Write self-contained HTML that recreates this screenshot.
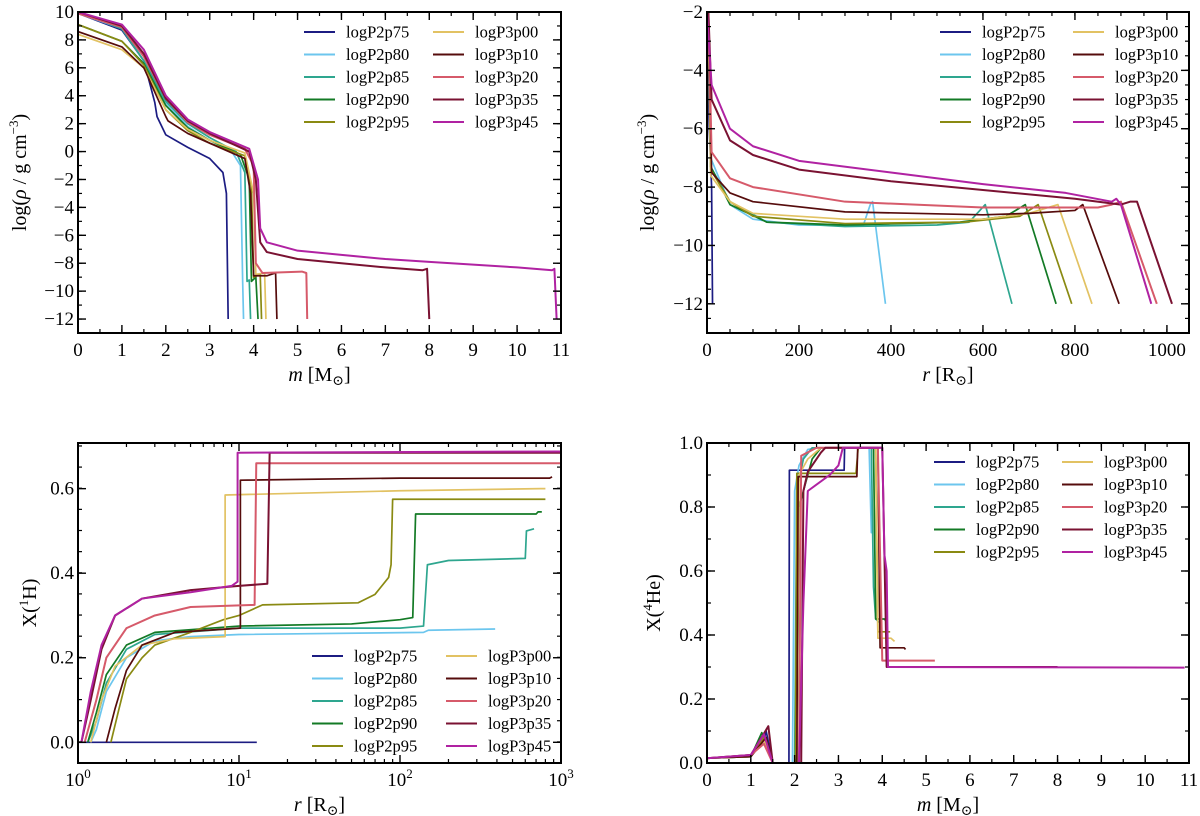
<!DOCTYPE html>
<html><head><meta charset="utf-8"><style>
html,body{margin:0;padding:0;background:#fff;}
svg{display:block;font-family:"Liberation Serif","DejaVu Serif",serif;}
</style></head><body>
<svg id="fig" width="1200" height="816" viewBox="0 0 1200 816" xmlns="http://www.w3.org/2000/svg"></svg>
<script>
const seriesNames = ["logP2p75","logP2p80","logP2p85","logP2p90","logP2p95","logP3p00","logP3p10","logP3p20","logP3p35","logP3p45"];
const seriesColors = ["#1c1c82","#6cc6ee","#2ea68f","#137a25","#8a8a12","#e2c263","#560c0c","#d65a6a","#7a1232","#b022a2"];

// Panel 1: m vs log rho
const rhoM_p2p75 = [[0,9.9],[1,8.7],[1.5,6.5],[1.75,3.5],[1.8,2.5],[2,1.2],[2.5,0.3],[3,-0.5],[3.3,-1.5],[3.38,-3],[3.42,-12]];
const rhoM_p2p80 = [[0,9.9],[1,8.8],[1.5,6.5],[2,3.5],[2.5,1.8],[3,0.8],[3.5,0],[3.7,-1],[3.75,-9.3],[3.77,-12]];
const rhoM_p2p85 = [[0,10],[1,8.8],[1.5,6.5],[2,3.6],[2.5,2],[3,1],[3.6,0],[3.8,-1.5],[3.85,-9.3],[3.9,-9.2],[3.93,-12]];
const rhoM_p2p90 = [[0,9.1],[1,7.9],[1.5,6.3],[2,3.3],[2.5,1.7],[3,0.8],[3.7,-0.2],[3.9,-2],[3.95,-9.3],[4.05,-9],[4.1,-12]];
const rhoM_p2p95 = [[0,9.1],[1,7.9],[1.5,6.2],[2,3],[2.5,1.5],[3,0.6],[3.8,-0.3],[3.95,-2.5],[4,-9],[4.15,-8.8],[4.18,-12]];
const rhoM_p3p00 = [[0,8.4],[1,7.3],[1.5,6],[2,3],[2.5,1.6],[3,0.8],[3.8,-0.1],[4,-3],[4.05,-8.8],[4.25,-8.7],[4.28,-12]];
const rhoM_p3p10 = [[0,8.6],[1,7.5],[1.5,6],[2,2.5],[2.05,2.2],[2.5,1.3],[3,0.6],[3.8,-0.5],[3.93,-3],[4,-8.9],[4.3,-8.9],[4.5,-8.7],[4.53,-12]];
const rhoM_p3p20 = [[0,9.9],[1,8.9],[1.5,6.8],[2,3.8],[2.5,2.1],[3,1.2],[3.8,0.2],[4,-1],[4.05,-8],[4.2,-8.7],[5.1,-8.6],[5.2,-8.7],[5.22,-12]];
const rhoM_p3p35 = [[0,10],[1,9],[1.5,7],[2,3.8],[2.5,2.2],[3,1.3],[3.9,0],[4.05,-2],[4.15,-6.5],[4.3,-7.2],[5,-7.7],[6,-8],[7,-8.3],[7.85,-8.5],[7.95,-8.4],[8,-12]];
const rhoM_p3p45 = [[0,10],[1,9.1],[1.5,7.3],[2,4],[2.5,2.3],[3,1.4],[3.9,0.2],[4.1,-2],[4.15,-5.5],[4.3,-6.5],[5,-7.1],[6,-7.4],[7,-7.7],[8,-7.9],[9,-8.1],[10,-8.3],[10.8,-8.5],[10.85,-8.4],[10.9,-12]];

// Panel 2: r vs log rho
const rhoR_p2p75 = [[0,-2],[5,-6],[10,-8],[12,-12]];
const rhoR_p2p80 = [[3,-2],[8,-7],[50,-8.6],[100,-9.1],[200,-9.3],[340,-9.3],[355,-8.6],[360,-8.5],[388,-12]];
const rhoR_p2p85 = [[3,-2],[8,-7.3],[50,-8.5],[130,-9.2],[300,-9.35],[500,-9.3],[570,-9.2],[605,-8.6],[663,-12]];
const rhoR_p2p90 = [[3,-2],[8,-7.3],[50,-8.6],[130,-9.2],[300,-9.3],[550,-9.2],[650,-9],[692,-8.6],[759,-12]];
const rhoR_p2p95 = [[3,-2],[8,-7.4],[50,-8.5],[100,-9],[300,-9.25],[560,-9.2],[680,-9],[720,-8.6],[793,-12]];
const rhoR_p3p00 = [[3,-2],[8,-7.6],[50,-8.5],[100,-8.9],[300,-9.1],[600,-9.1],[700,-8.9],[763,-8.6],[837,-12]];
const rhoR_p3p10 = [[3,-2],[10,-7.5],[50,-8.2],[100,-8.5],[300,-8.85],[600,-8.95],[700,-8.9],[800,-8.8],[817,-8.6],[896,-12]];
const rhoR_p3p20 = [[3,-2],[10,-6.8],[50,-7.7],[100,-8],[300,-8.5],[600,-8.7],[850,-8.7],[880,-8.6],[900,-8.5],[978,-12]];
const rhoR_p3p35 = [[3,-2],[10,-5],[50,-6.4],[100,-6.9],[200,-7.4],[400,-7.8],[600,-8.1],[800,-8.4],[900,-8.6],[920,-8.5],[935,-8.5],[1011,-12]];
const rhoR_p3p45 = [[0,-2],[10,-4.5],[50,-6],[100,-6.6],[200,-7.1],[400,-7.5],[600,-7.9],[780,-8.2],[880,-8.5],[890,-8.4],[900,-8.6],[966,-12]];

// Panel 3: r (log) vs X(1H)
const h1_p2p75 = [[1,0],[12.9,0]];
const h1_p2p80 = [[1.2,0],[1.3,0.03],[1.5,0.12],[2,0.2],[3,0.24],[5,0.25],[10,0.255],[140,0.26],[150,0.265],[390,0.268]];
const h1_p2p85 = [[1.15,0],[1.3,0.05],[1.5,0.14],[2,0.22],[3,0.255],[10,0.27],[100,0.27],[140,0.275],[148,0.42],[200,0.43],[600,0.435],[610,0.5],[680,0.505]];
const h1_p2p90 = [[1.15,0],[1.3,0.07],[1.5,0.16],[2,0.23],[3,0.26],[10,0.275],[50,0.28],[100,0.29],[120,0.295],[125,0.54],[700,0.54],[720,0.545],[760,0.545]];
const h1_p2p95 = [[1.6,0],[1.8,0.08],[2,0.15],[2.5,0.2],[3,0.23],[5,0.26],[8,0.29],[10,0.3],[14,0.325],[55,0.33],[70,0.35],[85,0.39],[88,0.42],[90,0.575],[800,0.575]];
const h1_p3p00 = [[1.2,0],[1.4,0.1],[1.7,0.18],[2.5,0.23],[4,0.245],[8.2,0.25],[8.2,0.585],[100,0.595],[750,0.6],[800,0.6]];
const h1_p3p10 = [[1.5,0],[1.7,0.08],[2,0.17],[2.5,0.23],[4,0.26],[10.2,0.27],[10.2,0.62],[100,0.625],[850,0.625],[880,0.628]];
const h1_p3p20 = [[1.1,0],[1.3,0.1],[1.5,0.2],[2,0.27],[3,0.3],[5,0.32],[12.5,0.325],[12.8,0.66],[1000,0.66]];
const h1_p3p35 = [[1.05,0],[1.2,0.1],[1.4,0.22],[1.7,0.3],[2.5,0.34],[5,0.36],[10,0.37],[15,0.375],[15.5,0.685],[1000,0.685]];
const h1_p3p45 = [[1.05,0],[1.2,0.12],[1.4,0.23],[1.7,0.3],[2.5,0.34],[5,0.355],[9,0.37],[9.8,0.38],[9.8,0.685],[1000,0.688]];

// Panel 4: m vs X(4He)
const he_p2p75 = [[0,0.015],[1,0.02],[1.3,0.07],[1.35,0.1],[1.5,0],[1.87,0],[1.88,0.915],[3.13,0.915],[3.14,0.985],[3.42,0.985]];
const he_p2p80 = [[0,0.015],[1,0.02],[1.3,0.08],[1.5,0],[1.95,0],[2,0.85],[2.1,0.93],[2.3,0.98],[2.5,0.985],[3.7,0.985],[3.75,0.72],[3.77,0.72]];
const he_p2p85 = [[0,0.015],[1,0.022],[1.3,0.09],[1.5,0],[2,0],[2.05,0.85],[2.2,0.95],[2.4,0.985],[3.75,0.985],[3.8,0.55],[3.85,0.45],[3.93,0.44]];
const he_p2p90 = [[0,0.015],[1,0.02],[1.25,0.095],[1.5,0],[2.05,0],[2.1,0.8],[2.4,0.95],[2.6,0.985],[3.8,0.985],[3.85,0.45],[4.05,0.45],[4.1,0.44]];
const he_p2p95 = [[0,0.015],[1,0.02],[1.3,0.08],[1.5,0],[2.02,0],[2.05,0.905],[3.4,0.905],[3.45,0.985],[3.85,0.985],[3.9,0.41],[4.18,0.41]];
const he_p3p00 = [[0,0.015],[1,0.02],[1.3,0.07],[1.5,0],[2.05,0],[2.1,0.9],[2.3,0.95],[2.6,0.985],[3.85,0.985],[3.9,0.39],[4.2,0.39],[4.28,0.38]];
const he_p3p10 = [[0,0.015],[1,0.02],[1.35,0.08],[1.5,0],[2.05,0],[2.08,0.895],[3.42,0.895],[3.44,0.985],[3.9,0.985],[3.95,0.36],[4.5,0.36],[4.53,0.355]];
const he_p3p20 = [[0,0.015],[1,0.025],[1.3,0.06],[1.5,0],[2.1,0],[2.15,0.96],[2.5,0.985],[3.9,0.985],[4,0.32],[5.2,0.32]];
const he_p3p35 = [[0,0.015],[1,0.025],[1.4,0.115],[1.5,0],[2.15,0],[2.2,0.85],[2.3,0.91],[2.6,0.97],[2.7,0.985],[4,0.985],[4.1,0.3],[8,0.3]];
const he_p3p45 = [[0,0.015],[1,0.025],[1.3,0.09],[1.5,0],[2.1,0],[2.2,0.5],[2.3,0.85],[2.5,0.87],[2.8,0.9],[3,0.93],[3.1,0.985],[4,0.985],[4.05,0.65],[4.1,0.6],[4.13,0.3],[10.9,0.298]];

const p1Series = [rhoM_p2p75,rhoM_p2p80,rhoM_p2p85,rhoM_p2p90,rhoM_p2p95,rhoM_p3p00,rhoM_p3p10,rhoM_p3p20,rhoM_p3p35,rhoM_p3p45];
const p2Series = [rhoR_p2p75,rhoR_p2p80,rhoR_p2p85,rhoR_p2p90,rhoR_p2p95,rhoR_p3p00,rhoR_p3p10,rhoR_p3p20,rhoR_p3p35,rhoR_p3p45];
const p3Series = [h1_p2p75,h1_p2p80,h1_p2p85,h1_p2p90,h1_p2p95,h1_p3p00,h1_p3p10,h1_p3p20,h1_p3p35,h1_p3p45];
const p4Series = [he_p2p75,he_p2p80,he_p2p85,he_p2p90,he_p2p95,he_p3p00,he_p3p10,he_p3p20,he_p3p35,he_p3p45];

const p1XTicks = [0,1,2,3,4,5,6,7,8,9,10,11];
const p1YTicks = [-12,-10,-8,-6,-4,-2,0,2,4,6,8,10];
const p2XTicks = [0,200,400,600,800,1000];
const p2YTicks = [-12,-10,-8,-6,-4,-2];
const p3XTicks = [1,10,100,1000];
const p3XTickLabels = ["0","1","2","3"];
const p3YTicks = [0,0.2,0.4,0.6];
const p4XTicks = [0,1,2,3,4,5,6,7,8,9,10,11];
const p4YTicks = [0,0.2,0.4,0.6,0.8,1.0];

const NS = "http://www.w3.org/2000/svg";
const svg = document.getElementById("fig");
function mk(tag, attrs, parent){
  const e = document.createElementNS(NS, tag);
  for (const k in attrs) e.setAttribute(k, attrs[k]);
  (parent||svg).appendChild(e);
  return e;
}

function panel(cfg){
  const g = mk("g", {});
  
  
  const L=cfg.L,R=cfg.R,T=cfg.T,B=cfg.B;
  const xs = cfg.log
    ? v => L + (Math.log10(v)-Math.log10(cfg.x0))/(Math.log10(cfg.x1)-Math.log10(cfg.x0))*(R-L)
    : v => L + (v-cfg.x0)/(cfg.x1-cfg.x0)*(R-L);
  const ys = v => B - (v-cfg.y0)/(cfg.y1-cfg.y0)*(B-T);
  const cp = mk("clipPath", {id: cfg.name+"-clip"}, g);
  mk("rect", {x:L, y:T, width:R-L, height:B-T}, cp);
  const lg = mk("g", {"clip-path":"url(#"+cfg.name+"-clip)"}, g);
  cfg.series.forEach((s, i) => {
    const d = s.map((p,j)=> (j?"L":"M")+xs(p[0]).toFixed(2)+","+ys(p[1]).toFixed(2)).join("");
    const path = mk("path", {d:d, fill:"none", stroke:seriesColors[i], "stroke-width":(i>=7?2:1.7), "stroke-linejoin":"round"}, lg);
    
    
  });
  const fr = mk("rect", {x:L, y:T, width:R-L, height:B-T, fill:"none", stroke:"#000", "stroke-width":2}, g);
  
  
  let minorX = [];
  if (cfg.log){
    for (let d=0; d<3; d++) for (let k=2;k<10;k++) minorX.push(Math.pow(10,d)*k);
  } else {
    for (let v=cfg.x0; v<=cfg.x1+1e-9; v+=cfg.xMinor) minorX.push(v);
  }
  minorX.forEach(v=>{
    const x=xs(v); if (x<L-0.5||x>R+0.5) return;
    mk("line",{x1:x,y1:B,x2:x,y2:B-4,stroke:"#000","stroke-width":1.2},g);
    mk("line",{x1:x,y1:T,x2:x,y2:T+4,stroke:"#000","stroke-width":1.2},g);
  });
  for (let v=cfg.y0; v<=cfg.y1+1e-9; v+=cfg.yMinor){
    const y=ys(v); if (y<T-0.5||y>B+0.5) continue;
    mk("line",{x1:L,y1:y,x2:L+4,y2:y,stroke:"#000","stroke-width":1.2},g);
    mk("line",{x1:R,y1:y,x2:R-4,y2:y,stroke:"#000","stroke-width":1.2},g);
  }
  cfg.xTicks.forEach((v,i)=>{
    const x=xs(v);
    mk("line",{x1:x,y1:B,x2:x,y2:B-8,stroke:"#000","stroke-width":1.4},g);
    mk("line",{x1:x,y1:T,x2:x,y2:T+8,stroke:"#000","stroke-width":1.4},g);
    const t = mk("text",{x:x, y:B+23, "text-anchor":"middle", "font-size":19},g);
    if (cfg.log){
      t.textContent = "10";
      const sup = mk("tspan",{dy:-8,"font-size":13},t); sup.textContent = cfg.xTickLabels[i];
    } else t.textContent = String(v);
    
    
  });
  cfg.yTicks.forEach(v=>{
    const y=ys(v);
    mk("line",{x1:L,y1:y,x2:L+8,y2:y,stroke:"#000","stroke-width":1.4},g);
    mk("line",{x1:R,y1:y,x2:R-8,y2:y,stroke:"#000","stroke-width":1.4},g);
    const t = mk("text",{x:L-4, y:y+6, "text-anchor":"end", "font-size":19},g);
    t.textContent = cfg.yFmt ? cfg.yFmt(v) : (v<0 ? "\u2212"+Math.abs(v) : String(v));
    
    
  });
  const xt = mk("text",{x:(L+R)/2, y:B+48, "text-anchor":"middle", "font-size":20},g);
  xt.innerHTML = cfg.xTitle;
  
  
  const yt = mk("text",{x:0,y:0,"text-anchor":"middle","font-size":20,transform:"translate("+cfg.yTitleX+","+(T+B)/2+") rotate(-90)"},g);
  yt.innerHTML = cfg.yTitle;
  
  
  const lgd = mk("g",{},g);
  
  
  seriesNames.forEach((n,i)=>{
    const col = Math.floor(i/5), row = i%5;
    const lx = cfg.legX + col*cfg.legColW, ly = cfg.legY + row*22.5;
    const e = mk("g",{},lgd);
    
    
    mk("line",{x1:lx,y1:ly,x2:lx+31,y2:ly,stroke:seriesColors[i],"stroke-width":2},e);
    const t = mk("text",{x:lx+42,y:ly+5.5,"font-size":16.5},e);
    t.textContent = n;
  });
}

const yLabelRho = 'log(<tspan font-style="italic">ρ</tspan> / g cm<tspan dy="-8" font-size="13">−3</tspan><tspan dy="8">)</tspan>';
const xLabelM = '<tspan font-style="italic">m</tspan> [M<tspan font-size="14" dy="4">⊙</tspan><tspan dy="-4">]</tspan>';
const xLabelR = '<tspan font-style="italic">r</tspan> [R<tspan font-size="14" dy="4">⊙</tspan><tspan dy="-4">]</tspan>';

panel({name:"panel-density-mass", L:78,R:561,T:12,B:333, x0:0,x1:11,y0:-13,y1:10, xMinor:0.5, yMinor:1,
  xTicks:p1XTicks, yTicks:p1YTicks, series:p1Series, xTitle:xLabelM, yTitle:yLabelRho, yTitleX:26, legX:304, legY:32, legColW:129});
panel({name:"panel-density-radius", L:707,R:1189,T:12,B:333, x0:0,x1:1048,y0:-13,y1:-2, xMinor:50, yMinor:0.5,
  xTicks:p2XTicks, yTicks:p2YTicks, series:p2Series, xTitle:xLabelR, yTitle:yLabelRho, yTitleX:654, legX:940, legY:32, legColW:133});
panel({name:"panel-hydrogen-radius", L:78,R:561,T:443,B:763, log:true, x0:1,x1:1000,y0:-0.049,y1:0.708, yMinor:0.05,
  xTicks:p3XTicks, xTickLabels:p3XTickLabels, yTicks:p3YTicks, series:p3Series, xTitle:xLabelR,
  yTitle:'X(<tspan dy="-8" font-size="13">1</tspan><tspan dy="8">H)</tspan>', yTitleX:36, yFmt:v=>v.toFixed(1), legX:312, legY:656, legColW:134});
panel({name:"panel-helium-mass", L:707,R:1189,T:443,B:763, x0:0,x1:11,y0:0,y1:1, xMinor:0.5, yMinor:0.1,
  xTicks:p4XTicks, yTicks:p4YTicks, series:p4Series, xTitle:xLabelM,
  yTitle:'X(<tspan dy="-8" font-size="13">4</tspan><tspan dy="8">He)</tspan>', yTitleX:660, yFmt:v=>v.toFixed(1), legX:934, legY:462, legColW:128});
</script>
</body></html>
